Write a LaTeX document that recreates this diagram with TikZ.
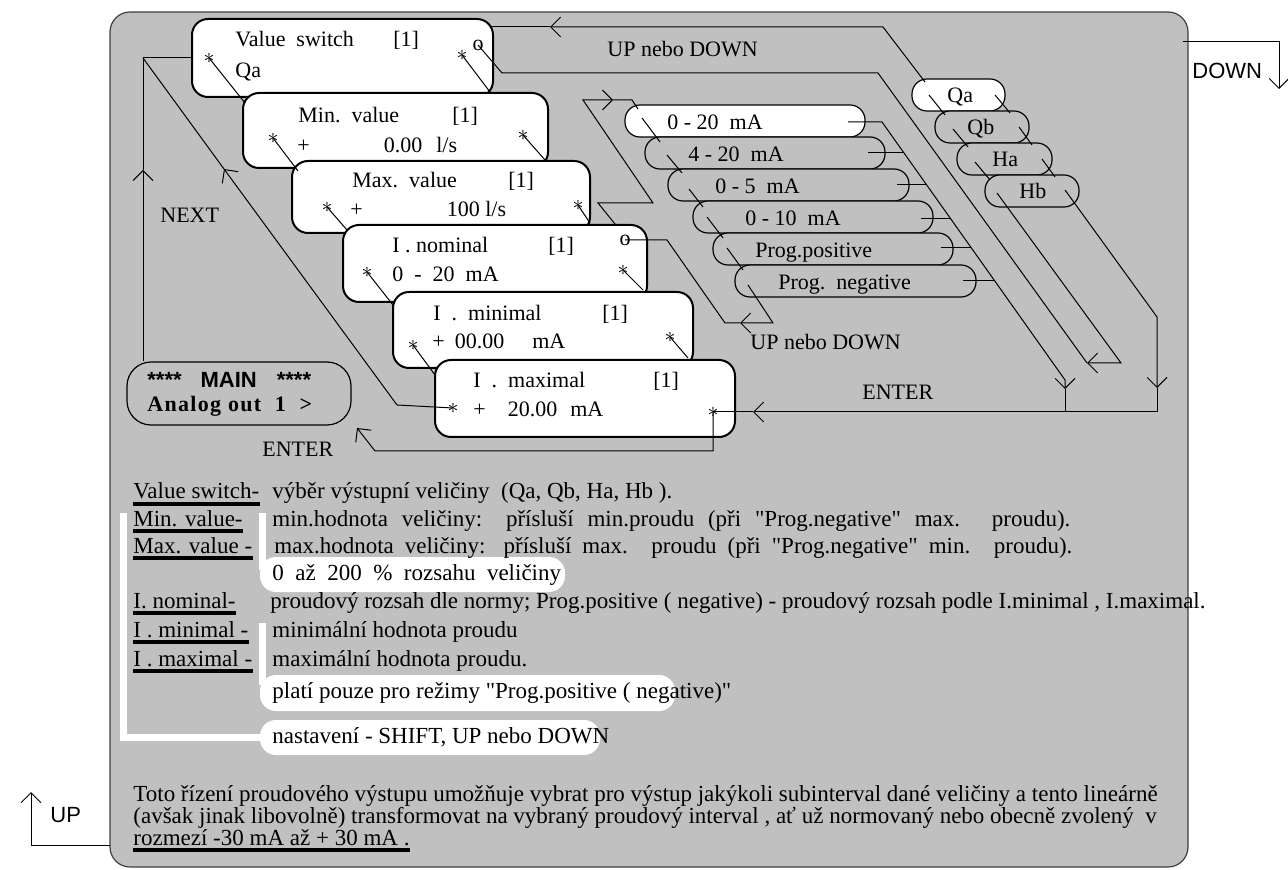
\documentclass[tikz,border=0pt]{standalone}
\usepackage{fontspec}
\setmainfont{Liberation Serif}[Ligatures=TeXOff]
\setsansfont{Liberation Sans}
\usetikzlibrary{arrows.meta,fit}
\definecolor{panelgray}{RGB}{192,192,192}
\tikzset{
  barb/.tip={Straight Barb[angle=90:7pt]},
  panel/.style={draw=black!75, line width=0.6pt, fill=panelgray, rounded corners=10pt},
  menubox/.style={draw, line width=1pt, fill=white, rounded corners=8pt, inner sep=0pt},
  mainbox/.style={draw, line width=0.6pt, fill=panelgray, rounded corners=12pt, inner sep=0pt},
  optbox/.style={draw, line width=0.6pt, fill=panelgray, rounded corners=7.5pt, inner sep=0pt},
  selbox/.style={optbox, fill=white},
  txt/.style={anchor=base west, inner sep=0pt},
  note/.style={txt, font=\fontsize{11.5}{13}\selectfont},
  astk/.style={inner sep=0pt},
  wire/.style={line width=0.5pt},
  wbar/.style={draw=white, line width=3.5pt},
  wcap/.style={fill=white, rounded corners=8pt},
  ubar/.style={line width=2pt}
}
\begin{document}
\begin{tikzpicture}[x=0.5pt, y=-0.5pt, font=\fontsize{11}{13}\selectfont]
\useasboundingbox (0,0) rectangle (1288,870);
% grey panel
\path[panel] (110,12) rectangle (1188,867);

% menu boxes, each one over the previous
\node[menubox, fit={(192,19) (493,97)}] (vsw) {};
\node[txt] (vswa) at (235,47) {Value\ \ switch};
\node[txt] (vswb) at (393,47) {[1]};
\node[txt] (vswc) at (235,78) {Qa};
\node[astk] (vswl) at (209,58) {$\ast$};
\node[astk] (vswr) at (462,55) {$\ast$};
\node[astk] (vswo) at (478,45) {o};

\node[menubox, fit={(243,93) (548,168)}] (minv) {};
\node[txt] (minva) at (298,123) {Min.\ \ value};
\node[txt] (minvb) at (452,123) {[1]};
\node[txt] (minvc) at (297,153) {+\hspace{37pt}0.00\hspace{7pt}l/s};
\node[astk] (minvl) at (273,138) {$\ast$};
\node[astk] (minvr) at (523,135) {$\ast$};

\node[menubox, fit={(292,161) (590,233)}] (maxv) {};
\node[txt] (maxva) at (352,188) {Max.\ \ value};
\node[txt] (maxvb) at (508,188) {[1]};
\node[txt] (maxvc) at (350,217) {+\hspace{42pt}100 l/s};
\node[astk] (maxvl) at (327,207) {$\ast$};
\node[astk] (maxvr) at (578,205) {$\ast$};

\node[menubox, fit={(343,225) (647,302)}] (inom) {};
\node[txt] (inoma) at (392,253) {I . nominal};
\node[txt] (inomb) at (548,253) {[1]};
\node[txt] (inomc) at (392,282) {0\ \ -\ \ 20\ \ mA};
\node[astk] (inoml) at (367,272) {$\ast$};
\node[astk] (inomr) at (623,270) {$\ast$};
\node[astk] (inomo) at (625,240) {o};

\node[menubox, fit={(393,292) (693,368)}] (imin) {};
\node[txt] (imina) at (433,321) {I\ \ .\ \ minimal};
\node[txt] (iminb) at (602,321) {[1]};
\node[txt] (iminc) at (432,349) {+\hspace{5pt}00.00\hspace{14pt}mA};
\node[astk] (iminl) at (413,345) {$\ast$};
\node[astk] (iminr) at (670,337) {$\ast$};

\node[menubox, fit={(435,360) (735,437)}] (imax) {};
\node[txt] (imaxa) at (473,388) {I\ \ .\ \ maximal};
\node[txt] (imaxb) at (653,388) {[1]};
\node[txt] (imaxc) at (473,417) {+\hspace{11pt}20.00\hspace{6.5pt}mA};
\node[astk] (imaxl) at (453,408) {$\ast$};
\node[astk] (imaxr) at (713,412) {$\ast$};

% main menu box
\node[mainbox, fit={(127,362) (351,425)}] (mainm) {};
\node[txt] (maina) at (147,388) {\sffamily\bfseries ****\hspace{9.5pt}MAIN\hspace{10pt}****};
\node[txt] (mainb) at (147,412) {\bfseries\addfontfeature{LetterSpace=6}Analog\ out\ \ 1\ \ >};

% current ranges
\node[selbox, fit={(625,105) (865,137)}] (ra) {};
\node[optbox, fit={(645,137) (885,169)}] (rb) {};
\node[optbox, fit={(668,169) (909,201)}] (rc) {};
\node[optbox, fit={(693,201) (933,233)}] (rd) {};
\node[optbox, fit={(713,233) (953,265)}] (re) {};
\node[optbox, fit={(735,265) (976,297)}] (rf) {};
\node[txt] (rat) at (667,130) {0 - 20\ \ mA};
\node[txt] (rbt) at (688,162) {4 - 20\ \ mA};
\node[txt] (rct) at (715,194) {0 - 5\ \ mA};
\node[txt] (rdt) at (745,226) {0 - 10\ \ mA};
\node[txt] (ret) at (755,258) {Prog.positive};
\node[txt] (rft) at (778,290) {Prog.\ \ negative};

% quantities
\node[selbox, fit={(912,79) (1005,111)}] (qa) {};
\node[optbox, fit={(935,111) (1029,143)}] (qb) {};
\node[optbox, fit={(957,143) (1052,175)}] (ha) {};
\node[optbox, fit={(985,175) (1079,207)}] (hb) {};
\node[txt] (qat) at (947,103) {Qa};
\node[txt] (qbt) at (967,135) {Qb};
\node[txt] (hat) at (992,167) {Ha};
\node[txt] (hbt) at (1019,199) {Hb};

% steps between the menu boxes
\draw[wire] (vswl.center) -- (245,103);
\draw[wire] (vswr.center) -- (490,92);
\draw[wire] (minvl.center) -- (298,171);
\draw[wire] (minvr.center) -- (545,160);
\draw[wire] (maxvl.center) -- (347,230);
\draw[wire] (maxvr.center) -- (590,223);
\draw[wire] (inoml.center) -- (393,305);
\draw[wire] (inomr.center) -- (643,290);
\draw[wire] (iminl.center) -- (435,375);
\draw[wire] (iminr.center) -- (688,358);

% NEXT
\coordinate (nx1) at (143,170);
\coordinate (nx2) at (143,58);
\draw[wire,-barb] (mainm.north -| nx2) -- (nx1);
\draw[wire] (nx1) -- (nx2) -- (vsw.west |- nx2);
\coordinate (bk1) at (397,405);
\coordinate (bk2) at (224,169);
\draw[wire,-barb] (imaxl.center) -- (bk1) -- (bk2);
\draw[wire] (bk2) -- (nx2);
\node[txt] (nxt) at (160,223) {NEXT};

% ENTER back to the main menu
\draw[wire,-barb] (imaxr.center) -- (713,451) -- (375,451) -- (357,428);
\node[txt] (ent1) at (262,457) {ENTER};

% value switch loop
\draw[wire,-barb] (925,82) -- (883,27) -- (550,27);
\draw[wire] (550,27) -- (490,27);
\node[txt] (ud1) at (607,57) {UP nebo DOWN};
\draw[wire,-barb] (997,193) -- (1121,363) -- (1087,363);
\draw[wire] (1087,363) -- (878,73) -- (502,73) -- (vswo.center);
\draw[wire,-barb] (1065,190) -- (1157,317) -- (1157,388);
\draw[wire] (1157,388) -- (1157,412) -- (1083,412);
\draw[wire] (929,95) -- (945,115);
\draw[wire] (995,95) -- (1010,113);
\draw[wire] (953,129) -- (968,147);
\draw[wire] (1019,127) -- (1032,145);
\draw[wire] (975,162) -- (990,180);
\draw[wire] (1042,159) -- (1055,177);

% range loop
\draw[wire,-barb] (615,224) -- (598,203) -- (653,203) -- (583,100) -- (613,100);
\draw[wire] (613,100) -- (632,100) -- (638,109);
\draw[wire] (642,118) -- (660,142);
\draw[wire] (667,155) -- (682,173);
\draw[wire] (689,189) -- (703,207);
\draw[wire] (707,217) -- (723,238);
\draw[wire] (727,248) -- (743,270);
\draw[wire,-barb] (748,285) -- (773,323) -- (740,323);
\draw[wire] (740,323) -- (725,323) -- (667,240) -- (inomo.center);
\node[txt] (ud2) at (750,350) {UP nebo DOWN};
\draw[wire,-barb] (848,122) -- (882,122) -- (1065,380) -- (1065,389);
\draw[wire] (1065,389) -- (1065,412);
\draw[wire] (868,153) -- (904,153);
\draw[wire] (897,185) -- (927,185);
\draw[wire] (921,219) -- (951,219);
\draw[wire] (941,248) -- (971,248);
\draw[wire] (963,281) -- (995,281);

% ENTER into I. maximal
\draw[wire,-barb] (1092,412) -- (753,412);
\draw[wire] (753,412) -- (imaxr.center);
\node[txt] (ent2) at (862,400) {ENTER};

% keys outside the panel
\draw[wire,-barb] (1183,42) -- (1279,42) -- (1279,89);
\node[txt] (dwn) at (1192,79) {\sffamily DOWN};
\draw[wire,-barb] (110,845) -- (31,845) -- (31,792);
\node[txt] (upk) at (50,822) {\sffamily UP};

% notes
\draw[wbar] (123,513) -- (123,737) -- (262,737);
\draw[wbar] (262,513) -- (262,570);
\draw[wbar] (262,623) -- (262,685);
\fill[wcap] (260,557) rectangle (565,592);
\fill[wcap] (260,675) rectangle (675,711);
\fill[wcap] (260,720) rectangle (600,755);

\node[note] (lvs) at (133,499) {Value switch-};
\node[note] (lmin) at (133,526) {Min. value-};
\node[note] (lmax) at (133,553) {Max. value -};
\node[note] (lnom) at (133,608) {I. nominal-};
\node[note] (llo) at (133,637) {I . minimal -};
\node[note] (lhi) at (133,666) {I . maximal -};
\foreach \n in {lvs,lmin,lmax,lnom,llo,lhi}
  \draw[ubar] ([yshift=-2.5pt]\n.base west) -- ([yshift=-2.5pt]\n.base east);

\node[note] (dvs) at (272,499) {výběr výstupní veličiny\ \ (Qa, Qb, Ha, Hb ).};
\node[note] (dmin) at (272,526) {\makebox[399pt][s]{min.hodnota veličiny: přísluší min.proudu (při "Prog.negative" max. proudu).}};
\node[note] (dmax) at (274,553) {\makebox[399pt][s]{max.hodnota veličiny: přísluší max. proudu (při "Prog.negative" min. proudu).}};
\node[note] (drng) at (272,580) {0\ \ až\ \ 200\ \ \%\ \ rozsahu\ \ veličiny};
\node[note] (dnom) at (270,608) {proudový rozsah dle normy; Prog.positive ( negative) - proudový rozsah podle I.minimal , I.maximal.};
\node[note] (dlo) at (272,637) {minimální hodnota proudu};
\node[note] (dhi) at (272,666) {maximální hodnota proudu.};
\node[note] (dprg) at (272,698) {platí pouze pro režimy "Prog.positive ( negative)"};
\node[note] (dset) at (272,743) {nastavení - SHIFT, UP nebo DOWN};

\node[note] (par1) at (133,801) {Toto řízení proudového výstupu umožňuje vybrat pro výstup jakýkoli subinterval dané veličiny a tento lineárně};
\node[note] (par2) at (133,823) {(avšak jinak libovolně) transformovat na vybraný proudový interval , ať už normovaný nebo obecně zvolený\ \ v};
\node[note] (par3) at (133,845) {rozmezí -30 mA až + 30 mA .};
\draw[ubar] ([yshift=-2.5pt]par3.base west) -- ([yshift=-2.5pt]par3.base east);
\end{tikzpicture}
\end{document}
